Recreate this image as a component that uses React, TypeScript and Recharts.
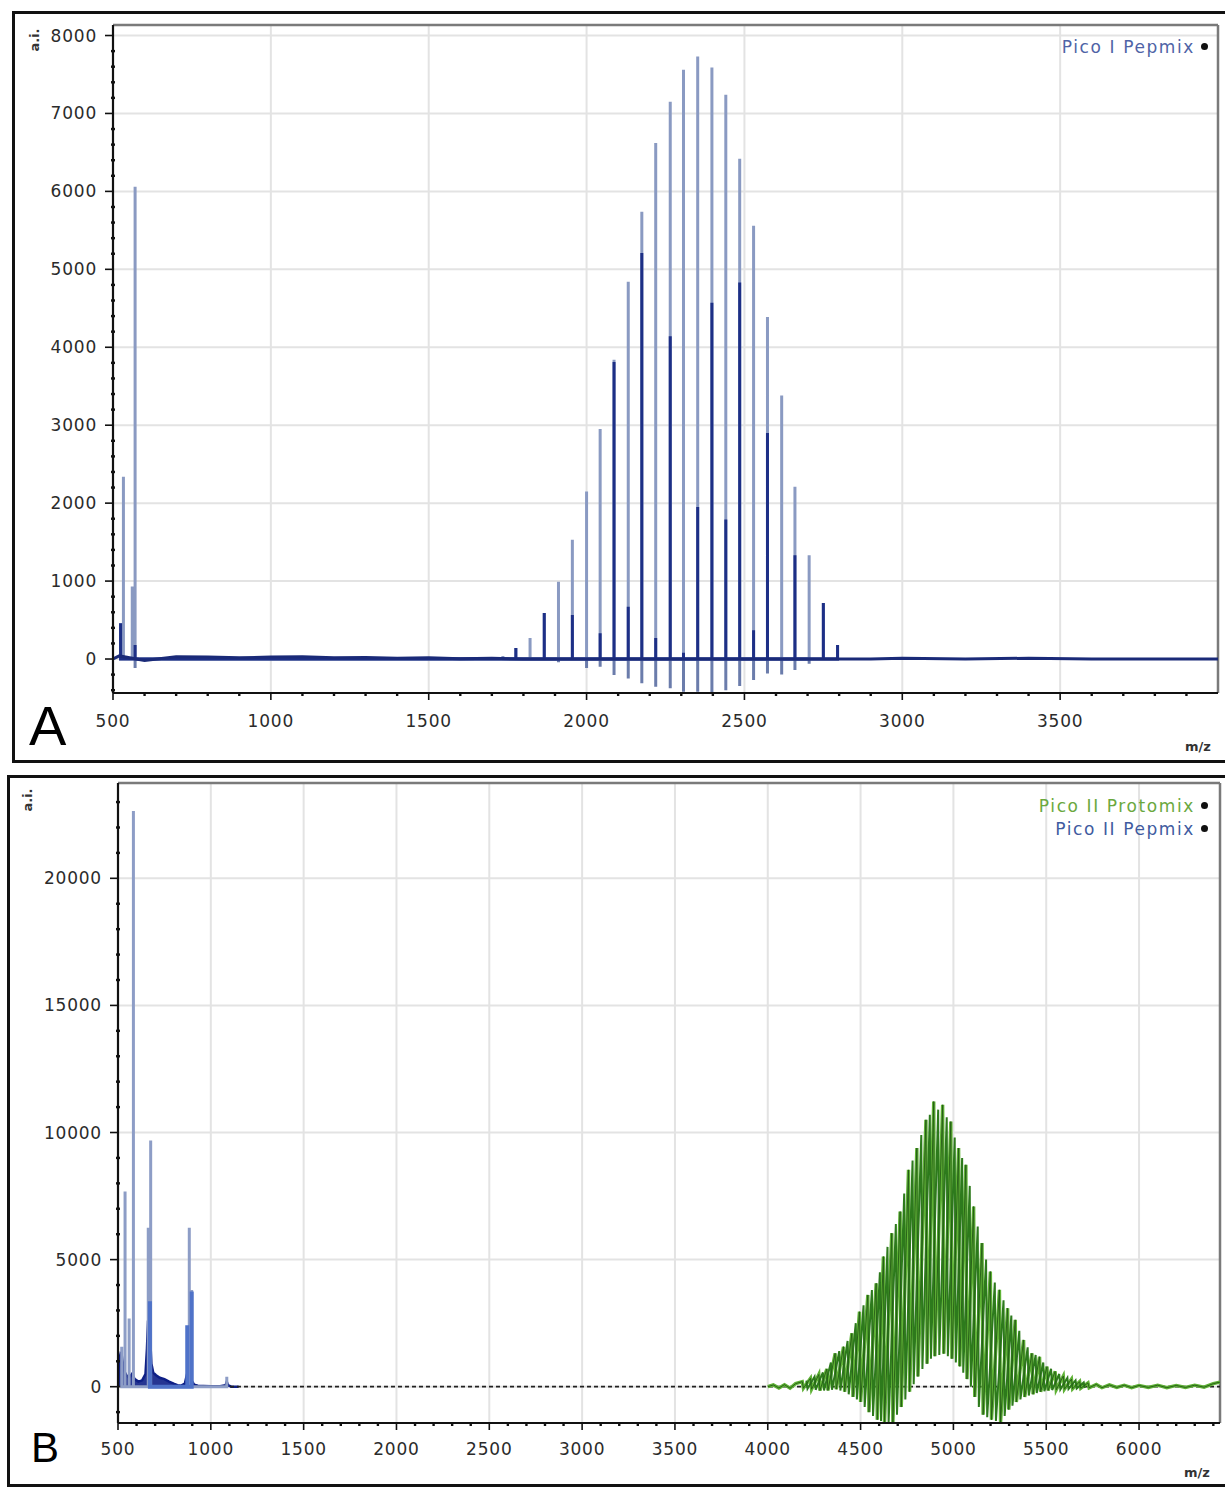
import React from 'react';
import {
  ComposedChart,
  Line,
  Area,
  XAxis,
  YAxis,
  CartesianGrid,
  ReferenceLine,
  Legend,
} from 'recharts';

const FONT = '"DejaVu Sans", Verdana, sans-serif';

// ---------- Panel A: Pico I Pepmix ----------
const aMz = [524, 533, 561, 570, 1735, 1776, 1821, 1866, 1911, 1955, 2000, 2043, 2087, 2132, 2175, 2219, 2265, 2307, 2352, 2397, 2441, 2485, 2529, 2573, 2618, 2660, 2705, 2750, 2795];
const aLight = [460, 2340, 930, 6060, 40, 140, 270, 590, 990, 1530, 2150, 2950, 3840, 4840, 5740, 6620, 7150, 7560, 7730, 7590, 7240, 6420, 5560, 4390, 3380, 2210, 1330, 720, 180];
const aDark = [460, 0, 0, 180, 0, 140, 0, 590, 0, 565, 0, 330, 3810, 670, 5210, 270, 4140, 80, 1950, 4570, 1790, 4830, 370, 2900, 0, 1330, 0, 720, 180];
const aFloor = [0, 0, 0, -115, 0, 0, 0, 0, -40, 0, -115, -100, -205, -250, -310, -355, -375, -420, -420, -436, -400, -345, -270, -185, -200, -140, -60, 0, 0];
const aBaseMz = [500, 520, 600, 700, 800, 900, 1000, 1100, 1200, 1300, 1400, 1500, 1600, 1700, 1800, 2900, 3000, 3200, 3400, 3600, 3800, 4000];
const aBaseVal = [0, 40, -20, 30, 25, 15, 25, 30, 15, 20, 10, 15, 5, 10, 0, 0, 10, 0, 10, 0, 0, 0];

const aXDomain: [number, number] = [500, 4000];
const aYDomain: [number, number] = [-436, 8135];
const aXMajor = [500, 1000, 1500, 2000, 2500, 3000, 3500];
const aYMajor = [0, 1000, 2000, 3000, 4000, 5000, 6000, 7000, 8000];

// ---------- Panel B: Pico II Pepmix + Protomix ----------
const bLightMz = [520, 538, 560, 583, 663, 676, 884, 897, 1086];
const bLight = [1570, 7680, 2680, 22650, 6250, 9690, 6250, 3800, 390];
const bMidMz = [672, 873, 897];
const bMid = [3360, 2420, 3750];
const bDarkMz = [500, 503, 508, 514, 520, 527, 535, 545, 560, 575, 590, 610, 630, 648, 656, 662, 668, 674, 680, 690, 705, 725, 750, 775, 800, 820, 840, 860, 872, 880, 888, 896, 910, 930, 960, 1000, 1050, 1080, 1086, 1092, 1110, 1150];
const bDarkVal = [0, 700, 1100, 1300, 1250, 900, 600, 450, 350, 500, 300, 200, 250, 500, 1500, 2600, 2500, 1800, 900, 550, 450, 350, 300, 200, 120, 60, 40, 120, 500, 720, 600, 250, 80, 40, 30, 20, 20, 60, 200, 60, 0, 0];

// Protomix: main charge-state envelope
const gLeadMz = [4000, 4030, 4060, 4090, 4120, 4150];
const gLeadVal = [0, 70, -50, 80, -60, 120];
const greenMz = [4186, 4230, 4275, 4318, 4363, 4408, 4453, 4494, 4539, 4584, 4623, 4668, 4713, 4758, 4803, 4852, 4894, 4942, 4986, 5028, 5067, 5109, 5154, 5199, 5248, 5292, 5333, 5378, 5423, 5464, 5504, 5548, 5592, 5636, 5680, 5725];
const greenTop = [200, 330, 480, 700, 1315, 1575, 2100, 2950, 3610, 4070, 5120, 6040, 6890, 8530, 9390, 10500, 11220, 11090, 10430, 9390, 8730, 7090, 5650, 4530, 3810, 3090, 2630, 1840, 1315, 1180, 790, 600, 420, 300, 200, 150];
const greenFloor = [-60, -100, -150, -150, -100, -200, -400, -600, -1000, -1300, -1400, -1400, -800, -200, 400, 900, 1200, 1300, 1100, 800, 300, -400, -1100, -1300, -1400, -900, -600, -400, -300, -200, -150, -120, -100, -80, -60, -40];
const gTailMz = [5770, 5800, 5840, 5880, 5920, 5960, 6000, 6050, 6100, 6150, 6200, 6250, 6300, 6350, 6400, 6436];
const gTailVal = [90, -40, 70, -30, 60, -40, 50, -30, 60, -40, 50, -30, 60, -20, 120, 180];

// Protomix: interleaved adduct series (darker trace)
const innerMz = [4208, 4252, 4297, 4340, 4385, 4430, 4474, 4516, 4561, 4604, 4645, 4690, 4735, 4780, 4827, 4873, 4918, 4964, 5007, 5047, 5088, 5131, 5176, 5223, 5270, 5312, 5355, 5400, 5443, 5484, 5526, 5570, 5614, 5658, 5702];
const innerTop = [240, 390, 560, 950, 1400, 1800, 2500, 3200, 3800, 4500, 5500, 6400, 7600, 8900, 9900, 10700, 10900, 10600, 9800, 9000, 7900, 6300, 5000, 4100, 3400, 2800, 2200, 1550, 1250, 950, 700, 500, 350, 250, 170];
const innerFloor = [-80, -120, -150, -120, -150, -300, -500, -800, -1150, -1350, -1400, -1100, -500, 100, 700, 1100, 1250, 1200, 950, 550, 0, -800, -1200, -1350, -1150, -750, -500, -350, -250, -180, -130, -110, -90, -70, -50];

const bXDomain: [number, number] = [500, 6436];
const bYDomain: [number, number] = [-1428, 23750];
const bXMajor = [500, 1000, 1500, 2000, 2500, 3000, 3500, 4000, 4500, 5000, 5500, 6000];
const bYMajor = [0, 5000, 10000, 15000, 20000];

const legendA = [{ label: 'Pico I Pepmix', color: '#4f63a6' }];
const legendB = [
  { label: 'Pico II Protomix', color: '#6aa83e' },
  { label: 'Pico II Pepmix', color: '#3f5ba0' },
];

// ---------- helpers ----------
type Pt = { mz: number; v: number };

const pairs = (mz: number[], v: number[]): Pt[] => mz.map((m, i) => ({ mz: m, v: v[i] }));

// each centroid becomes a vertical stick rising from the zero line
const sticks = (mz: number[], h: number[]): Pt[] =>
  mz.flatMap((m, i) => (h[i] === 0 ? [] : [{ mz: m, v: 0 }, { mz: m, v: h[i] }, { mz: m, v: 0 }]));

// profile trace: apex followed by the trough right after it
const sawtooth = (mz: number[], top: number[], floor: number[]): Pt[] =>
  mz.flatMap((m, i) => [{ mz: m, v: top[i] }, { mz: m + 6, v: floor[i] }]);

const steps = (from: number, to: number, step: number) => {
  const out: number[] = [];
  for (let t = from; t <= to; t += step) out.push(t);
  return out;
};

const aXTicks = steps(500, 3900, 100);
const aYTicks = steps(-400, 8000, 200);
const bXTicks = steps(500, 6400, 100);
const bYTicks = steps(-1000, 23000, 1000);

const aLightData = sticks(aMz, aLight);
const aDarkData = sticks(aMz, aDark);
const aFloorData = sticks(aMz, aFloor);
const aBaseData = pairs(aBaseMz, aBaseVal);

const bLightData = sticks(bLightMz, bLight);
const bMidData = sticks(bMidMz, bMid);
const bDarkData = pairs(bDarkMz, bDarkVal);
const greenData = [
  ...pairs(gLeadMz, gLeadVal),
  ...sawtooth(greenMz, greenTop, greenFloor),
  ...pairs(gTailMz, gTailVal),
];
const innerData = sawtooth(innerMz, innerTop, innerFloor);

const tickText = { fontFamily: FONT, fontSize: 17, fill: '#2b2b2b', letterSpacing: 0.8 } as const;

const makeYTick = (majorStep: number) => (props: any) => {
  const { x, y, payload } = props;
  const major = payload.value % majorStep === 0;
  return (
    <g>
      {major ? (
        <line x1={x - 8} x2={x} y1={y} y2={y} stroke="#111" strokeWidth={1.6} />
      ) : (
        <line x1={x - 2} x2={x + 2} y1={y} y2={y} stroke="#111" strokeWidth={2.4} />
      )}
      {major && (
        <text x={x - 16} y={y} textAnchor="end" dominantBaseline="central" {...tickText}>
          {payload.value}
        </text>
      )}
    </g>
  );
};

const makeXTick = (majorStep: number, labelDrop: number) => (props: any) => {
  const { x, y, payload } = props;
  const major = payload.value % majorStep === 0;
  return (
    <g>
      {major ? (
        <line x1={x} x2={x} y1={y} y2={y + 7} stroke="#111" strokeWidth={1.6} />
      ) : (
        <line x1={x} x2={x} y1={y - 1} y2={y + 3} stroke="#111" strokeWidth={2.4} />
      )}
      {major && (
        <text x={x} y={y + labelDrop} textAnchor="middle" dominantBaseline="central" {...tickText}>
          {payload.value}
        </text>
      )}
    </g>
  );
};

const LegendBlock = ({ entries }: { entries: { label: string; color: string }[] }) => (
  <div style={{ display: 'flex', flexDirection: 'column', alignItems: 'flex-end' }}>
    {entries.map((e) => (
      <div
        key={e.label}
        style={{
          display: 'flex',
          alignItems: 'center',
          height: 23,
          fontFamily: FONT,
          fontSize: 17,
          letterSpacing: 1.6,
          color: e.color,
          whiteSpace: 'nowrap',
        }}
      >
        <span>{e.label}</span>
        <span
          style={{
            display: 'inline-block',
            width: 7,
            height: 7,
            borderRadius: '50%',
            background: '#111',
            marginLeft: 6,
          }}
        />
      </div>
    ))}
  </div>
);

const axisLine = { stroke: '#111', strokeWidth: 2.2 };
const frame = '#7a7a7a';
const noDot = { dot: false, activeDot: false, isAnimationActive: false } as const;

const smallLabel: React.CSSProperties = {
  position: 'absolute',
  fontFamily: FONT,
  fontSize: 13,
  fontWeight: 'bold',
  color: '#333',
  whiteSpace: 'nowrap',
};

const panelLetter: React.CSSProperties = {
  position: 'absolute',
  fontFamily: '"Liberation Sans", Arial, sans-serif',
  color: '#000',
  lineHeight: 1,
};

export default function App() {
  return (
    <div
      style={{
        position: 'absolute',
        left: 0,
        top: 0,
        width: 1225,
        height: 1488,
        overflow: 'hidden',
        background: '#fff',
      }}
    >
      {/* panel frames */}
      <div style={{ position: 'absolute', left: 12, top: 11, width: 1240, height: 752, border: '3px solid #111', boxSizing: 'border-box' }} />
      <div style={{ position: 'absolute', left: 7, top: 775, width: 1240, height: 712, border: '3px solid #111', boxSizing: 'border-box' }} />

      {/* Panel A */}
      <div style={{ position: 'absolute', left: 0, top: 0 }}>
        <ComposedChart width={1225} height={765} margin={{ top: 25, right: 7, bottom: 32, left: 53 }}>
          <CartesianGrid horizontalValues={aYMajor} verticalValues={aXMajor} stroke="#e3e3e3" strokeWidth={2} />
          <XAxis
            type="number"
            dataKey="mz"
            domain={aXDomain}
            allowDataOverflow
            ticks={aXTicks}
            interval={0}
            tickLine={false}
            tickSize={0}
            tickMargin={0}
            height={40}
            axisLine={axisLine}
            tick={makeXTick(500, 28)}
          />
          <YAxis
            type="number"
            domain={aYDomain}
            allowDataOverflow
            ticks={aYTicks}
            interval={0}
            tickLine={false}
            tickSize={0}
            tickMargin={0}
            width={60}
            axisLine={axisLine}
            tick={makeYTick(1000)}
          />
          <ReferenceLine y={aYDomain[1]} stroke={frame} strokeWidth={2.5} />
          <ReferenceLine x={aXDomain[1]} stroke={frame} strokeWidth={2.5} />
          <Line data={aLightData} dataKey="v" name="Pico I Pepmix" type="linear" stroke="#8a9ac2" strokeWidth={3} {...noDot} />
          <Line data={aFloorData} dataKey="v" type="linear" stroke="#6b7cab" strokeWidth={3} {...noDot} />
          <Line data={aDarkData} dataKey="v" type="linear" stroke="#1d2f86" strokeWidth={3} {...noDot} />
          <Line data={aBaseData} dataKey="v" type="linear" stroke="#1a2a78" strokeWidth={3} {...noDot} />
          <Legend
            layout="horizontal"
            align="center"
            verticalAlign="middle"
            wrapperStyle={{ top: 35, right: 17, left: 'auto', bottom: 'auto', width: 360 }}
            content={() => <LegendBlock entries={legendA} />}
          />
        </ComposedChart>
      </div>

      {/* Panel B */}
      <div style={{ position: 'absolute', left: 0, top: 760 }}>
        <ComposedChart width={1225} height={728} margin={{ top: 23, right: 5, bottom: 25, left: 58 }}>
          <CartesianGrid horizontalValues={bYMajor} verticalValues={bXMajor} stroke="#e3e3e3" strokeWidth={2} />
          <XAxis
            type="number"
            dataKey="mz"
            domain={bXDomain}
            allowDataOverflow
            ticks={bXTicks}
            interval={0}
            tickLine={false}
            tickSize={0}
            tickMargin={0}
            height={40}
            axisLine={axisLine}
            tick={makeXTick(500, 26)}
          />
          <YAxis
            type="number"
            domain={bYDomain}
            allowDataOverflow
            ticks={bYTicks}
            interval={0}
            tickLine={false}
            tickSize={0}
            tickMargin={0}
            width={60}
            axisLine={axisLine}
            tick={makeYTick(5000)}
          />
          <ReferenceLine y={bYDomain[1]} stroke={frame} strokeWidth={2.5} />
          <ReferenceLine x={bXDomain[1]} stroke={frame} strokeWidth={2.5} />
          <ReferenceLine y={0} stroke="#222" strokeWidth={1.8} strokeDasharray="4 3" />
          <Line data={bLightData} dataKey="v" name="Pico II Pepmix" type="linear" stroke="#8d9dc6" strokeWidth={3} {...noDot} />
          <Line data={bMidData} dataKey="v" type="linear" stroke="#4f72c8" strokeWidth={4} {...noDot} />
          <Area data={bDarkData} dataKey="v" type="linear" stroke="#0e1f86" strokeWidth={2.5} fill="#0e1f86" fillOpacity={0.9} {...noDot} />
          <Line data={greenData} dataKey="v" name="Pico II Protomix" type="linear" stroke="#5fb236" strokeWidth={3.4} {...noDot} />
          <Line data={innerData} dataKey="v" type="linear" stroke="#2d7a1c" strokeWidth={2} {...noDot} />
          <Line data={greenData} dataKey="v" type="linear" stroke="#245a16" strokeWidth={0.9} {...noDot} />
          <Legend
            layout="horizontal"
            align="center"
            verticalAlign="middle"
            wrapperStyle={{ top: 34, right: 17, left: 'auto', bottom: 'auto', width: 360 }}
            content={() => <LegendBlock entries={legendB} />}
          />
        </ComposedChart>
      </div>

      {/* axis captions and panel letters */}
      <div style={{ ...smallLabel, left: 34, top: 40, transform: 'translate(-50%, -50%) rotate(-90deg)' }}>a.i.</div>
      <div style={{ ...smallLabel, left: 27, top: 800, transform: 'translate(-50%, -50%) rotate(-90deg)' }}>a.i.</div>
      <div style={{ ...smallLabel, left: 1198, top: 746, transform: 'translate(-50%, -50%)' }}>m/z</div>
      <div style={{ ...smallLabel, left: 1197, top: 1472, transform: 'translate(-50%, -50%)' }}>m/z</div>
      <div style={{ ...panelLetter, left: 29, top: 698, fontSize: 56 }}>A</div>
      <div style={{ ...panelLetter, left: 31, top: 1427, fontSize: 42 }}>B</div>
    </div>
  );
}
